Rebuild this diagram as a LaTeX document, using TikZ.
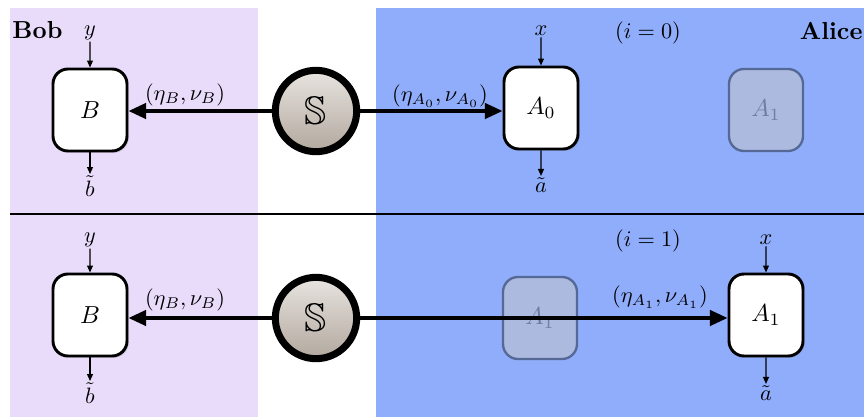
\documentclass[tikz,border=0pt]{standalone}
\usepackage{amssymb}
\usetikzlibrary{arrows.meta,shadows}
\definecolor{bobcol}{RGB}{232,220,250}
\definecolor{alicecol}{RGB}{143,173,250}
\definecolor{ghostfill}{RGB}{172,186,224}
\definecolor{ghostdraw}{RGB}{85,104,150}
\definecolor{ghosttext}{RGB}{112,124,160}
\definecolor{srctop}{RGB}{232,228,224}
\definecolor{srcbot}{RGB}{178,168,158}
\newcommand{\bx}[1]{\scalebox{2.1}{$#1$}}
\begin{document}
\begin{tikzpicture}[x=0.03cm,y=-0.03cm,
  lab/.style={scale=1.9, inner sep=0.5pt},
  party/.style={draw=black, line width=2.5pt, fill=white, rounded corners=0.45cm,
    minimum width=2.22cm, minimum height=2.46cm,
    drop shadow={opacity=0.25, shadow xshift=1.5pt, shadow yshift=-1.5pt}},
  ghost/.style={draw=ghostdraw, line width=2pt, fill=ghostfill, rounded corners=0.45cm,
    minimum width=2.22cm, minimum height=2.46cm, text=ghosttext},
  source/.style={circle, draw=black, line width=6pt, top color=srctop, bottom color=srcbot,
    minimum size=2.44cm, inner sep=0pt},
  bigarrow/.style={line width=3pt, -{Triangle[length=15pt,width=13pt]}},
  smallarrow/.style={line width=1.2pt, -{Triangle[length=6pt,width=5pt]}},
  ptitle/.style={font=\bfseries, scale=2.1, inner sep=0pt}
]
\useasboundingbox (0,0) rectangle (864,417);
% regions
\fill[bobcol] (10,8) rectangle (258,417);
\fill[alicecol] (376,8) rectangle (864,417);
\coordinate (divL) at (10,214);
\coordinate (divR) at (864,214);
\draw[line width=1.2pt] (divL) -- (divR);

% titles
\node[ptitle, anchor=west] (bob) at (12,30) {Bob};
\node[ptitle, anchor=east] (alice) at (863,31) {Alice};
\node[lab] (i0) at (648,33) {$(i=0)$};
\node[lab] (i1) at (648,241) {$(i=1)$};

% ---------- top row ----------
\node[ghost] (A1g) at (766,110) {\bx{A_1}};
\node[source] (S1) at (316,111) {\scalebox{3.4}{$\mathbb{S}$}};
\node[party] (B1) at (90,110) {\bx{B}};
\node[party] (A0) at (541,108) {\bx{A_0}};
\draw[bigarrow] (S1) -- (B1.east |- S1.center);
\draw[bigarrow] (S1) -- (A0.west |- S1.center);
\node[lab] (etaB1) at (185,95) {$(\eta_B,\nu_B)$};
\node[lab] (etaA0) at (440,96) {$(\eta_{A_0},\nu_{A_0})$};
\node[lab] (yB1) at (90,33) {$y$};
\node[lab] (bt1) at (90,186) {$\tilde b$};
\node[lab] (x0) at (541,31) {$x$};
\node[lab] (at0) at (541,185) {$\tilde a$};
\draw[smallarrow] (yB1) -- (B1);
\draw[smallarrow] (B1) -- (bt1);
\draw[smallarrow] (x0) -- (A0);
\draw[smallarrow] (A0) -- (at0);

% ---------- bottom row ----------
\node[ghost] (A1h) at (540,318) {\bx{A_1}};
\node[source] (S2) at (316,318) {\scalebox{3.4}{$\mathbb{S}$}};
\node[party] (B2) at (90,315) {\bx{B}};
\node[party] (A1) at (766,315) {\bx{A_1}};
\draw[bigarrow] (S2) -- (B2.east |- S2.center);
\draw[bigarrow] (S2) -- (A1.west |- S2.center);
\node[lab] (etaB2) at (185,300) {$(\eta_B,\nu_B)$};
\node[lab] (etaA1) at (660,297) {$(\eta_{A_1},\nu_{A_1})$};
\node[lab] (yB2) at (90,240) {$y$};
\node[lab] (bt2) at (90,393) {$\tilde b$};
\node[lab] (x1) at (766,240) {$x$};
\node[lab] (at1) at (766,393) {$\tilde a$};
\draw[smallarrow] (yB2) -- (B2);
\draw[smallarrow] (B2) -- (bt2);
\draw[smallarrow] (x1) -- (A1);
\draw[smallarrow] (A1) -- (at1);
\end{tikzpicture}
\end{document}
